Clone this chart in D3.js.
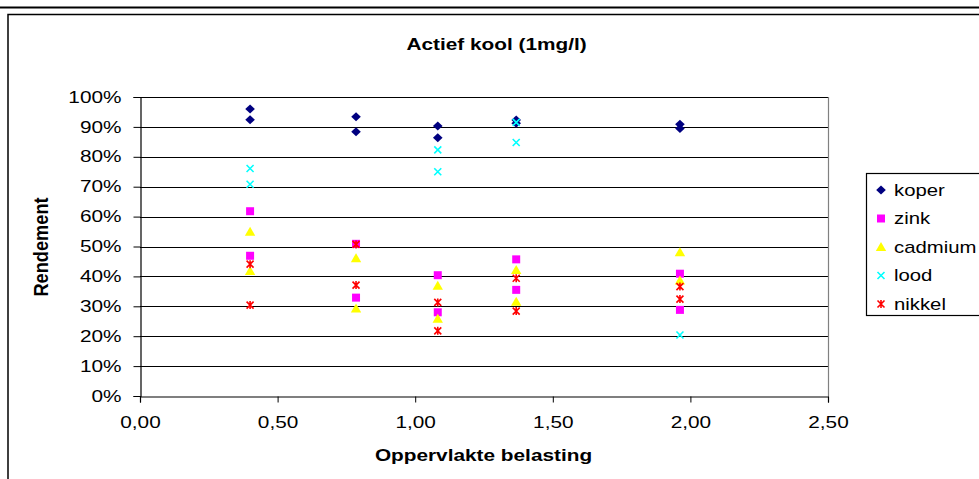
<!DOCTYPE html>
<html><head><meta charset="utf-8">
<script src="https://cdn.jsdelivr.net/npm/d3@7/dist/d3.min.js"></script>
<style>
html,body{margin:0;padding:0;background:#fff;}
svg{display:block;font-family:"Liberation Sans",Arial,sans-serif;}
</style></head>
<body>
<svg id="chart" width="979" height="479"></svg>
<script>
// ---- data ----
const chartTitle = "Actief kool (1mg/l)";
const xTitle = "Oppervlakte belasting";
const yTitle = "Rendement";
const xTicks = [0, 0.5, 1.0, 1.5, 2.0, 2.5];
const yTicks = [0, 0.1, 0.2, 0.3, 0.4, 0.5, 0.6, 0.7, 0.8, 0.9, 1.0];
const seriesNames = ["koper", "zink", "cadmium", "lood", "nikkel"];

const koperX = [0.40, 0.40, 0.785, 0.785, 1.082, 1.082, 1.367, 1.367, 1.962, 1.962];
const koperY = [0.960, 0.924, 0.934, 0.884, 0.903, 0.864, 0.923, 0.912, 0.909, 0.895];
const zinkX = [0.40, 0.40, 0.785, 0.785, 1.082, 1.082, 1.367, 1.367, 1.962, 1.962];
const zinkY = [0.618, 0.469, 0.509, 0.329, 0.404, 0.280, 0.457, 0.355, 0.409, 0.288];
const cadmiumX = [0.40, 0.40, 0.785, 0.785, 1.082, 1.082, 1.367, 1.367, 1.962, 1.962];
const cadmiumY = [0.549, 0.418, 0.461, 0.293, 0.369, 0.258, 0.421, 0.315, 0.481, 0.386];
const loodX = [0.40, 0.40, 1.082, 1.082, 1.367, 1.367, 1.962];
const loodY = [0.761, 0.708, 0.823, 0.750, 0.915, 0.848, 0.204];
const nikkelX = [0.40, 0.40, 0.785, 0.785, 1.082, 1.082, 1.367, 1.367, 1.962, 1.962];
const nikkelY = [0.441, 0.304, 0.507, 0.371, 0.313, 0.218, 0.394, 0.284, 0.366, 0.324];

const seriesX = [koperX, zinkX, cadmiumX, loodX, nikkelX];
const seriesY = [koperY, zinkY, cadmiumY, loodY, nikkelY];
const colors = ["#000080", "#FF00FF", "#FFFF00", "#00FFFF", "#FF0000"];
const shapes = ["diamond", "square", "triangle", "cross", "star"];

// ---- layout ----
const svg = d3.select("#chart");
const plot = {left: 140, right: 828, top: 97, bottom: 396};
const x = d3.scaleLinear().domain([0, 2.5]).range([plot.left, plot.right]);
const y = d3.scaleLinear().domain([0, 1]).range([plot.bottom, plot.top]);
const SX = 1.3; // horizontal stretch of text in the reference

// outer frame
svg.append("line").attr("x1", 0).attr("x2", 979).attr("y1", 7.5).attr("y2", 7.5)
  .attr("stroke", "#000").attr("stroke-width", 2);
svg.append("path").attr("d", "M8,490 V14.5 H990")
  .attr("fill", "none").attr("stroke", "#000").attr("stroke-width", 1.5);

// plot background
svg.append("rect").attr("x", plot.left).attr("y", plot.top)
  .attr("width", plot.right - plot.left).attr("height", plot.bottom - plot.top)
  .attr("fill", "#fff");

// gridlines
svg.append("g").selectAll("line").data(yTicks.filter(d => d > 0)).join("line")
  .attr("x1", plot.left).attr("x2", plot.right)
  .attr("y1", d => Math.round(y(d)) + 0.5).attr("y2", d => Math.round(y(d)) + 0.5)
  .attr("stroke", "#000").attr("stroke-width", 1);

// right border (gray)
svg.append("line").attr("x1", plot.right + 0.5).attr("x2", plot.right + 0.5)
  .attr("y1", plot.top).attr("y2", plot.bottom)
  .attr("stroke", "#808080").attr("stroke-width", 1.2);

function stretchText(sel, s) {
  sel.each(function() {
    const t = d3.select(this);
    const tx = +t.attr("x"), ty = +t.attr("y");
    t.attr("x", 0).attr("y", 0).attr("transform", `translate(${tx},${ty}) scale(${s},1)`);
  });
}

// y axis
const yAxis = svg.append("g").attr("transform", `translate(${plot.left + 0.5},0)`)
  .call(d3.axisLeft(y).tickValues(yTicks).tickFormat(d3.format(".0%")).tickSize(7).tickPadding(12));
yAxis.select(".domain").attr("stroke", "#000").attr("stroke-width", 1.2);
yAxis.selectAll(".tick line").attr("stroke", "#000");
yAxis.selectAll(".tick text").attr("font-size", 16).attr("fill", "#000")
  .attr("font-family", "Liberation Sans, Arial, sans-serif")
  .each(function() {
    const t = d3.select(this);
    t.attr("transform", `translate(-19,0) scale(${SX},1)`).attr("x", 0);
  });

// x axis
const xAxis = svg.append("g").attr("transform", `translate(0,${plot.bottom + 0.5})`)
  .call(d3.axisBottom(x).tickValues(xTicks).tickFormat(d => d3.format(".2f")(d).replace(".", ",")).tickSize(6).tickPadding(12));
xAxis.select(".domain").attr("stroke", "#000").attr("stroke-width", 1.2);
xAxis.selectAll(".tick line").attr("stroke", "#000");
xAxis.selectAll(".tick text").attr("font-size", 16).attr("fill", "#000")
  .attr("font-family", "Liberation Sans, Arial, sans-serif")
  .attr("dy", 0).attr("y", 0)
  .attr("transform", `translate(0,31) scale(${SX},1)`);

// titles
svg.append("text").attr("x", 496.5).attr("y", 50).attr("text-anchor", "middle")
  .attr("font-size", 16).attr("font-weight", "bold").text(chartTitle)
  .call(stretchText, SX);
svg.append("text").attr("x", 483.5).attr("y", 461).attr("text-anchor", "middle")
  .attr("font-size", 16).attr("font-weight", "bold").text(xTitle)
  .call(stretchText, SX);
svg.append("text").attr("text-anchor", "middle").attr("font-size", 16).attr("font-weight", "bold")
  .attr("transform", `translate(48,247) rotate(-90) scale(1.14,${SX})`).text(yTitle);

// markers
function markerPath(shape) {
  switch (shape) {
    case "diamond": return "M0,-4.5 L4.8,0 L0,4.5 L-4.8,0 Z";
    case "square": return "M-4,-4 H4 V4 H-4 Z";
    case "triangle": return "M0,-5 L5.2,4 L-5.2,4 Z";
    case "cross": return "M-3.5,-3.5 L3.5,3.5 M-3.5,3.5 L3.5,-3.5";
    case "star": return "M-3.5,-3.5 L3.5,3.5 M-3.5,3.5 L3.5,-3.5 M0,-4 V4";
  }
}
function drawMarker(g, i) {
  const sh = shapes[i];
  if (sh === "cross" || sh === "star") {
    g.append("path").attr("d", markerPath(sh)).attr("fill", "none")
      .attr("stroke", colors[i]).attr("stroke-width", 1.6);
  } else {
    g.append("path").attr("d", markerPath(sh)).attr("fill", colors[i]);
  }
}

seriesNames.forEach((name, i) => {
  const pts = seriesX[i].map((xv, j) => ({x: xv, y: seriesY[i][j]}));
  svg.append("g").selectAll("g").data(pts).join("g")
    .attr("transform", d => `translate(${x(d.x)},${y(d.y)})`)
    .each(function() { drawMarker(d3.select(this), i); });
});

// legend
const legend = svg.append("g");
legend.append("rect").attr("x", 866.5).attr("y", 173.5).attr("width", 140).attr("height", 142)
  .attr("fill", "#fff").attr("stroke", "#000").attr("stroke-width", 1.2);
const rowY = d3.scalePoint().domain(seriesNames).range([190, 304]);
seriesNames.forEach((name, i) => {
  const g = legend.append("g").attr("transform", `translate(881,${rowY(name)})`);
  drawMarker(g, i);
  legend.append("text").attr("x", 894).attr("y", rowY(name) + 5.5)
    .attr("font-size", 16).text(name).call(stretchText, 1.27);
});
</script>
</body></html>
